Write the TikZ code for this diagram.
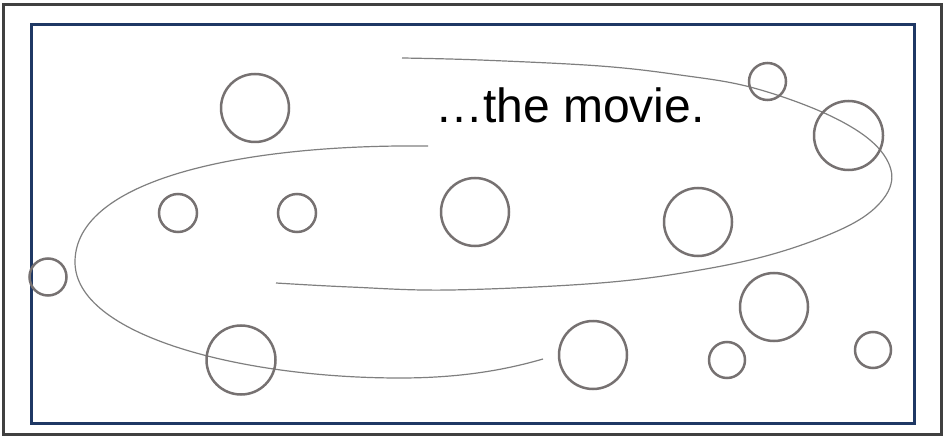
\documentclass[tikz,border=0pt]{standalone}
\usepackage{fontspec}
\setmainfont{Liberation Sans}
\definecolor{outerc}{HTML}{404040}
\definecolor{innerc}{HTML}{1F3864}
\definecolor{bubc}{HTML}{767171}
\definecolor{spirc}{HTML}{7F7F7F}
\begin{document}
\begin{tikzpicture}[x=1pt,y=-1pt,
  bub/.style={draw=bubc,line width=2.5pt,fill=none},
  spiral/.style={draw=spirc,line width=1.2pt},
  frameo/.style={draw=outerc,line width=3pt},
  framei/.style={draw=innerc,line width=3pt}]
\useasboundingbox (0,0) rectangle (944,438);
\draw[frameo] (3,4.5) rectangle (941,434.5);
\draw[framei] (31.5,25) rectangle (914.5,423.5);
% spiral arms
\draw[spiral] plot[smooth,tension=0.6] coordinates {(402,58) (480,60) (600,66) (680,75) (750,87) (822,112) (870,140) (891,170) (884,198) (850,225) (780,252) (700,270) (600,283) (450,290) (350,287) (276,283)};
\draw[spiral] (428,146) .. controls (240,144) and (75,180) .. (75,262)
  .. controls (75,335) and (240,378) .. (400,378)
  .. controls (470,378) and (515,367) .. (543,359);
% bubbles
\path[bub] (255,108) circle[radius=34];
\path[bub] (178,213) circle[radius=19];
\path[bub] (297,213) circle[radius=19];
\path[bub] (48,277) circle[radius=18.5];
\path[bub] (241,360) circle[radius=34.5];
\path[bub] (475,212) circle[radius=34];
\path[bub] (698,222) circle[radius=34];
\path[bub] (767.5,81.5) circle[radius=18.5];
\path[bub] (848.5,135.5) circle[radius=34.5];
\path[bub] (774,307) circle[radius=34];
\path[bub] (593,355) circle[radius=34];
\path[bub] (727,360) circle[radius=18];
\path[bub] (873,350) circle[radius=18];
\node[anchor=base,inner sep=0pt,font=\fontsize{48}{52}\selectfont] (title) at (570,123) {…the movie.};
\end{tikzpicture}
\end{document}
